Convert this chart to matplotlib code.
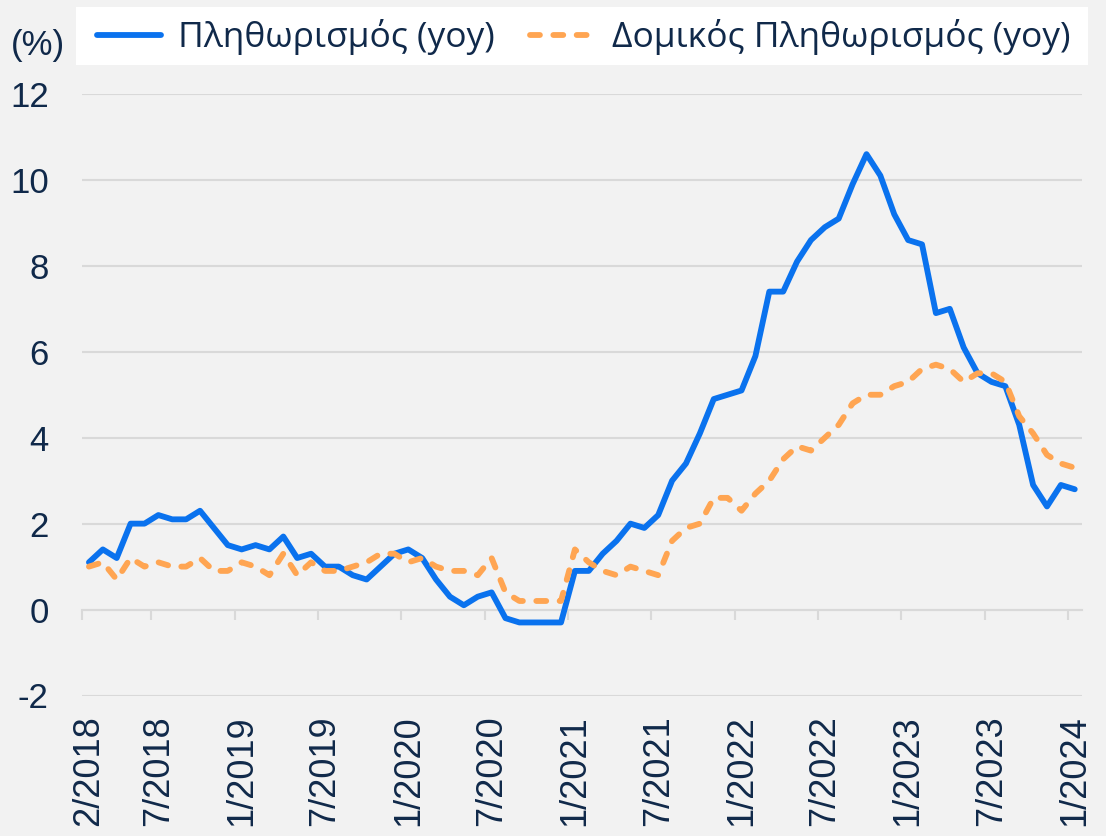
import numpy as np
import pandas as pd
import matplotlib
matplotlib.use('Agg')
import matplotlib.pyplot as plt
from matplotlib.patches import Rectangle

plt.rcParams['axes.unicode_minus'] = False

# monthly categories 2/2018 .. 1/2024
periods = pd.period_range('2018-02', '2024-01', freq='M')
months = [f"{p.month}/{p.year}" for p in periods]

tick_labels = ['2/2018', '7/2018', '1/2019', '7/2019', '1/2020', '7/2020', '1/2021',
               '7/2021', '1/2022', '7/2022', '1/2023', '7/2023', '1/2024']

inflation = [1.1, 1.4, 1.2, 2.0, 2.0, 2.2, 2.1, 2.1, 2.3, 1.9,
             1.5, 1.4, 1.5, 1.4, 1.7, 1.2, 1.3, 1.0, 1.0, 0.8,
             0.7, 1.0, 1.3, 1.4, 1.2, 0.7, 0.3, 0.1, 0.3, 0.4,
             -0.2, -0.3, -0.3, -0.3, -0.3, 0.9, 0.9, 1.3, 1.6, 2.0,
             1.9, 2.2, 3.0, 3.4, 4.1, 4.9, 5.0, 5.1, 5.9, 7.4,
             7.4, 8.1, 8.6, 8.9, 9.1, 9.9, 10.6, 10.1, 9.2, 8.6,
             8.5, 6.9, 7.0, 6.1, 5.5, 5.3, 5.2, 4.3, 2.9, 2.4,
             2.9, 2.8]

core = [1.0, 1.1, 0.7, 1.2, 1.0, 1.1, 1.0, 1.0, 1.2, 0.9,
        0.9, 1.1, 1.0, 0.8, 1.3, 0.8, 1.1, 0.9, 0.9, 1.0,
        1.1, 1.3, 1.3, 1.1, 1.2, 1.0, 0.9, 0.9, 0.8, 1.2,
        0.4, 0.2, 0.2, 0.2, 0.2, 1.4, 1.1, 0.9, 0.8, 1.0,
        0.9, 0.8, 1.6, 1.9, 2.0, 2.6, 2.6, 2.3, 2.7, 3.0,
        3.5, 3.8, 3.7, 4.0, 4.3, 4.8, 5.0, 5.0, 5.2, 5.3,
        5.6, 5.7, 5.6, 5.3, 5.5, 5.5, 5.3, 4.5, 4.1, 3.6,
        3.4, 3.3]

legend_labels = ['Πληθωρισμός (yoy)', 'Δομικός Πληθωρισμός (yoy)']

bg = '#f2f2f2'
txt = '#10294a'
grid_c = '#d9d9d9'

x = np.arange(len(months))

fig = plt.figure(figsize=(11.06, 8.36), dpi=100, facecolor=bg)
ax = fig.add_axes([82/1106, 1-695.5/836, (1081.7-82)/1106, (695.5-94)/836])
ax.set_facecolor(bg)

ax.plot(x, inflation, color='#0a72ee', lw=4.2, solid_capstyle='round',
        solid_joinstyle='round', label=legend_labels[0], zorder=3)
ax.plot(x, core, color='#ffa552', lw=4.2, linestyle=(0, (1.7, 2.3)),
        dash_capstyle='round', dash_joinstyle='round', label=legend_labels[1], zorder=3)

ax.set_ylim(-2, 12)
ax.set_yticks(np.arange(-2, 13, 2))
ax.set_xlim(-0.5, len(months) - 0.5)
ax.grid(axis='y', color=grid_c, lw=1.5)
ax.set_axisbelow(True)
for s in ax.spines.values():
    s.set_visible(False)

# labels sit at category centres, ticks at category boundaries
pos = [months.index(l) for l in tick_labels]
ax.set_xticks(pos)
ax.set_xticklabels(tick_labels, rotation=90, fontsize=26, color=txt,
                   fontfamily='Liberation Sans')
ax.tick_params(axis='x', length=0, pad=14)
ax.tick_params(axis='y', length=0, pad=24, labelsize=25, labelcolor=txt)
for t in ax.get_yticklabels():
    t.set_fontfamily('Liberation Sans')

# axis line at zero with tick marks
sec = ax.secondary_xaxis(2/14)
sec.set_xticks([p - 0.5 for p in pos])
sec.set_xticklabels([])
sec.tick_params(axis='x', direction='out', length=7.5, width=1.5, color=grid_c)
sec.spines['bottom'].set_color(grid_c)
sec.spines['bottom'].set_linewidth(1.5)

fig.text(0.01, 0.945, '(%)', fontsize=25, color=txt, va='center',
         fontfamily='Liberation Sans')

# white legend band
fig.patches.append(Rectangle((76/1106, 1-65/836), (1088-76)/1106, 58/836,
                             transform=fig.transFigure, facecolor='white',
                             edgecolor='none', zorder=0))
leg = fig.legend(loc='center left', bbox_to_anchor=(88/1106, 1-37/836), ncol=2,
                 frameon=False, handlelength=1.8, handletextpad=0.5, columnspacing=1.0,
                 borderpad=0.25, borderaxespad=0,
                 prop={'family': 'Open Sans', 'size': 25.5})
for t in leg.get_texts():
    t.set_color(txt)

fig.savefig('out.png', dpi=100, facecolor=bg)
